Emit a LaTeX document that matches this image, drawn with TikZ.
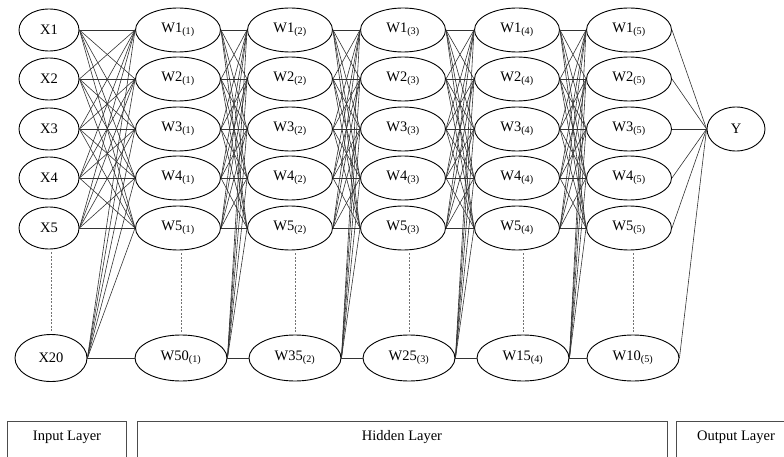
\documentclass[tikz,border=0pt]{standalone}
\usepackage{fontspec}
\setmainfont{Liberation Serif}
\usetikzlibrary{shapes.geometric}
\begin{document}
\begin{tikzpicture}[
		x=1pt, y=-1pt,
		font=\fontsize{14.5}{17}\selectfont,
		neuron/.style={draw, ellipse, line width=0.9pt, inner sep=0pt},
		inp/.style={neuron, minimum width=60, minimum height=42},
		hid/.style={neuron, minimum width=85, minimum height=44},
		hidlast/.style={neuron, minimum width=92, minimum height=46},
		link/.style={draw=black!80, line width=0.6pt},
		gap/.style={draw=black!55, line width=0.6pt, dash pattern=on 2pt off 1.5pt,
			shorten <=3pt, shorten >=3pt},
		layerbox/.style={draw=black!70, line width=0.9pt},
	]
		% Zeichenflaeche (unten und rechts abgeschnitten)
		\clip (0,0) rectangle (784,457);

		% Eingabeschicht
		\foreach \i/\y in {1/30,2/79,3/129,4/178,5/228}
			\node[inp] (x\i) at (49,\y) {X\i};
		\node[inp, minimum width=72, minimum height=47] (x20) at (51,358) {X20};
		\draw[gap] (x20.north |- x5.south) -- (x20.north);

		% Verdeckte Schichten mit absoluten Koordinaten
		\foreach \k/\xt/\xb/\n in {1/178/181/50, 2/290/295/35, 3/403/409/25,
				4/517/523/15, 5/629/633/10} {
			\foreach \i/\y in {1/30,2/79,3/129,4/178,5/228}
				\node[hid] (w\i-\k) at (\xt,\y) {W\i\textsubscript{(\k)}};
			\node[hidlast] (wb-\k) at (\xb,358) {W\n\textsubscript{(\k)}};
			\draw[gap] (wb-\k.north |- w5-\k.south) -- (wb-\k.north);
		}

		% Ausgabeschicht
		\node[neuron, minimum width=58, minimum height=44] (y) at (736,129) {Y};

		% Verbindungen Eingabe -> erste verdeckte Schicht
		\foreach \i in {1,...,5,20} {
			\foreach \j in {1,...,5}
				\draw[link] (x\i.east) -- (w\j-1.west);
		}
		\draw[link] (x20.east) -- (wb-1.west);

		% Verbindungen zwischen den verdeckten Schichten
		\foreach \k/\m in {1/2,2/3,3/4,4/5} {
			\foreach \i in {1,...,5,b} {
				\foreach \j in {1,...,5}
					\draw[link] (w\i-\k.east) -- (w\j-\m.west);
			}
			\draw[link] (wb-\k.east) -- (wb-\m.west);
		}

		% Verbindungen zur Ausgabe
		\foreach \i in {1,...,5,b}
			\draw[link] (w\i-5.east) -- (y.west);

		% Beschriftung der Schichten
		\draw[layerbox] (7,421) rectangle (126,470);
		\draw[layerbox] (137,421) rectangle (667,470);
		\draw[layerbox] (676,421) rectangle (800,470);
		\node (inlbl) at (67,437) {Input Layer};
		\node (hidlbl) at (402,437) {Hidden Layer};
		\node (outlbl) at (736,437) {Output Layer};
	\end{tikzpicture}
\end{document}
